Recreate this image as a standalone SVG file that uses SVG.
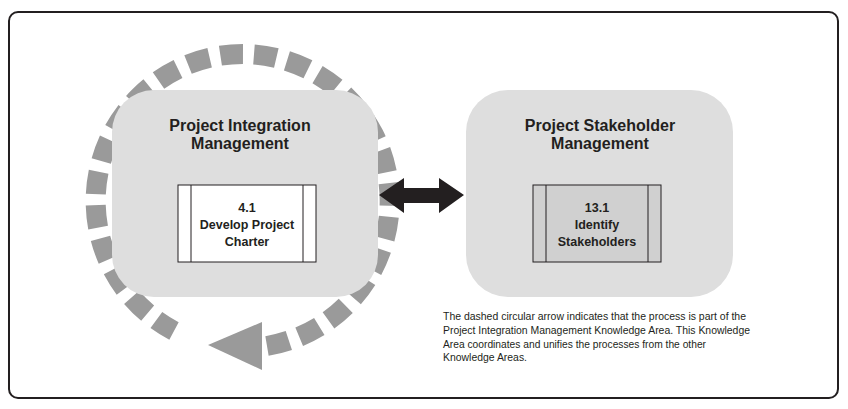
<svg xmlns="http://www.w3.org/2000/svg" width="848" height="409" viewBox="0 0 848 409">
<style>
.area{fill:#dedede;stroke:none}
.title{font-family:"Liberation Sans",Arial,sans-serif;font-weight:bold;font-size:16px;fill:#231f20;text-anchor:middle}
.proc{font-family:"Liberation Sans",Arial,sans-serif;font-weight:bold;font-size:12.5px;fill:#231f20;text-anchor:middle}
.note{font-family:"Liberation Sans Narrow","Liberation Sans",Arial,sans-serif;font-size:11px;fill:#231f20}
.box{stroke:#231f20;stroke-width:1}
</style>
<rect x="9" y="12" width="829" height="386" rx="9" fill="#fff" stroke="#231f20" stroke-width="2"/>
<g id="cycle">
<path d="M267,346 A147,147 0 1 0 174,331" fill="none" stroke="#9a9a9a" stroke-width="20" stroke-dasharray="22.6 11"/>
<polygon points="208,345 262,322 262,370" fill="#9a9a9a"/>
</g>
<g id="integration">
<rect class="area" x="112" y="90" width="266" height="207" rx="42"/>
<text class="title" x="240" y="131">Project Integration</text>
<text class="title" x="240" y="149">Management</text>
</g>
<g id="p41">
<rect class="box" x="178" y="185" width="138" height="77" fill="#fff"/>
<line class="box" x1="191" y1="185" x2="191" y2="262"/>
<line class="box" x1="303" y1="185" x2="303" y2="262"/>
<text class="proc" x="247" y="212">4.1</text>
<text class="proc" x="247" y="229">Develop Project</text>
<text class="proc" x="247" y="246">Charter</text>
</g>
<g id="stakeholder">
<rect class="area" x="466" y="90" width="267" height="207" rx="42"/>
<text class="title" x="600" y="131">Project Stakeholder</text>
<text class="title" x="600" y="149">Management</text>
</g>
<g id="p131">
<rect class="box" x="533" y="185" width="128" height="77" fill="#d0d0d0"/>
<line class="box" x1="546" y1="185" x2="546" y2="262"/>
<line class="box" x1="648" y1="185" x2="648" y2="262"/>
<text class="proc" x="597" y="212">13.1</text>
<text class="proc" x="597" y="229">Identify</text>
<text class="proc" x="597" y="246">Stakeholders</text>
</g>
<g id="connectors">
<polygon points="379,195 404,178 404,188 439,188 439,178 464,195 439,213 439,203 404,203 404,213" fill="#231f20"/>
</g>
<g id="note">
<text class="note" x="443" y="320" textLength="303" lengthAdjust="spacingAndGlyphs">The dashed circular arrow indicates that the process is part of the</text>
<text class="note" x="443" y="334" textLength="307" lengthAdjust="spacingAndGlyphs">Project Integration Management Knowledge Area. This Knowledge</text>
<text class="note" x="443" y="347.5" textLength="263" lengthAdjust="spacingAndGlyphs">Area coordinates and unifies the processes from the other</text>
<text class="note" x="443" y="361" textLength="84" lengthAdjust="spacingAndGlyphs">Knowledge Areas.</text>
</g>
</svg>
